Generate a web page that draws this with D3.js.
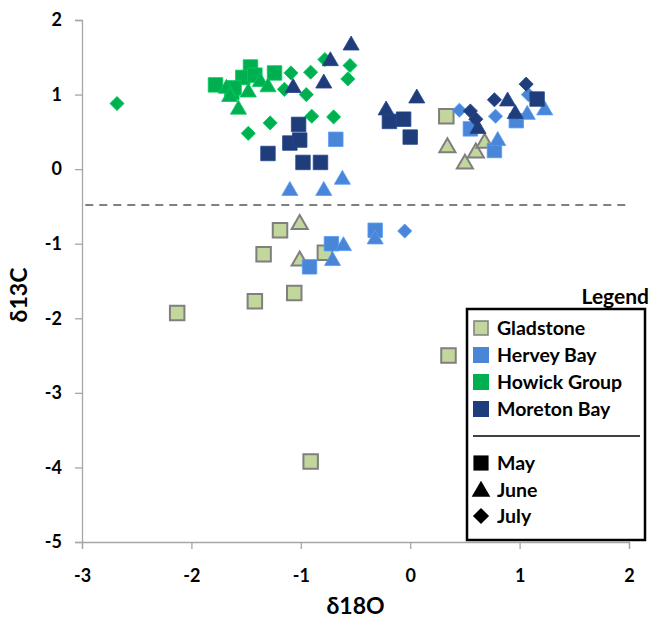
<!DOCTYPE html>
<html>
<head>
<meta charset="utf-8">
<script src="https://cdn.jsdelivr.net/npm/d3@7"></script>
<style>
  body { margin: 0; background: #fff; }
  text { font-family: Lato, "Open Sans", sans-serif; font-weight: bold; }
</style>
</head>
<body>
<div id="chart"></div>
<script>
// site / month data, [d18O, d13C]
var gladstoneMay = [[0.33,0.71],[-1.19,-0.82],[-1.34,-1.14],[-0.78,-1.12],[-1.06,-1.66],[-1.42,-1.77],[-2.13,-1.93],[0.35,-2.50],[-0.91,-3.92]];
var gladstoneJune = [[-1.01,-0.72],[-1.01,-1.21],[0.34,0.31],[0.50,0.09],[0.60,0.24],[0.68,0.37]];
var gladstoneJuly = [];

var herveyMay = [[-0.68,0.40],[-0.92,-1.31],[-0.72,-1.00],[-0.32,-0.82],[0.55,0.54],[0.97,0.65],[0.77,0.25]];
var herveyJune = [[-1.10,-0.27],[-0.79,-0.27],[-0.62,-0.12],[-0.61,-1.01],[-0.71,-1.21],[-0.32,-0.92],[1.07,0.75],[1.23,0.81],[0.80,0.40]];
var herveyJuly = [[0.45,0.79],[0.78,0.71],[1.08,1.00],[-0.05,-0.83]];

var howickMay = [[-1.78,1.13],[-1.46,1.37],[-1.53,1.23],[-1.24,1.29],[-1.63,1.03],[-1.42,1.26],[-1.61,1.09]];
var howickJune = [[-1.68,1.10],[-1.57,0.82],[-1.48,1.05],[-1.37,1.19],[-1.30,1.12],[-1.65,0.99]];
var howickJuly = [[-2.68,0.88],[-1.48,0.48],[-1.28,0.62],[-1.09,1.29],[-1.15,1.07],[-0.91,1.30],[-0.95,1.00],[-0.90,0.71],[-0.70,0.70],[-0.78,1.47],[-0.55,1.39],[-0.57,1.21]];

var moretonMay = [[-1.02,0.60],[-1.10,0.35],[-1.01,0.39],[-1.30,0.21],[-0.98,0.09],[-0.82,0.09],[-0.19,0.64],[-0.06,0.67],[0.00,0.43],[1.16,0.94]];
var moretonJune = [[-0.54,1.68],[-0.73,1.47],[-0.79,1.17],[-1.07,1.11],[-0.22,0.81],[0.06,0.97],[0.89,0.93],[0.96,0.76],[0.62,0.56]];
var moretonJuly = [[0.55,0.78],[0.60,0.67],[0.77,0.93],[1.06,1.14]];

var siteNames = ["Gladstone", "Hervey Bay", "Howick Group", "Moreton Bay"];
var siteColors = ["#c3d69b", "#4a86d8", "#00b050", "#1f3d7a"];
var monthNames = ["May", "June", "July"];
var xTicks = [-3, -2, -1, 0, 1, 2];
var yTicks = [-5, -4, -3, -2, -1, 0, 1, 2];
var thresholdY = -0.48;

var siteData = [
  [gladstoneMay, gladstoneJune, gladstoneJuly],
  [herveyMay, herveyJune, herveyJuly],
  [howickMay, howickJune, howickJuly],
  [moretonMay, moretonJune, moretonJuly]
];

var width = 651, height = 619;
var margin = {top: 20, right: 22, bottom: 77, left: 82};

var svg = d3.select("#chart").append("svg")
    .attr("width", width)
    .attr("height", height);

var x = d3.scaleLinear().domain([-3, 2]).range([margin.left, width - margin.right]);
var y = d3.scaleLinear().domain([-5, 2]).range([height - margin.bottom, margin.top]);

// plain hyphen for negatives, like the original
var fmt = function(d) { return String(d); };

// axes
var xAxis = svg.append("g")
    .attr("transform", "translate(0," + y(-5) + ")")
    .call(d3.axisBottom(x).tickValues(xTicks).tickSize(7).tickPadding(20).tickFormat(fmt));
var yAxis = svg.append("g")
    .attr("transform", "translate(" + x(-3) + ",0)")
    .call(d3.axisLeft(y).tickValues(yTicks).tickSize(7).tickPadding(13).tickFormat(fmt));

[xAxis, yAxis].forEach(function(ax) {
  ax.select(".domain").attr("stroke", "#a6a6a6").attr("stroke-width", 1.3);
  ax.selectAll(".tick line").attr("stroke", "#a6a6a6").attr("stroke-width", 1.3);
  ax.selectAll(".tick text").attr("fill", "#000").style("font-size", "18px").style("font-weight", "bold")
    .style("font-family", "Lato, 'Open Sans', sans-serif");
});

// dashed threshold line
svg.append("line")
    .attr("x1", x(-2.97)).attr("x2", x(1.97))
    .attr("y1", y(thresholdY)).attr("y2", y(thresholdY))
    .attr("stroke", "#7f7f7f")
    .attr("stroke-width", 2)
    .attr("stroke-dasharray", "8,6");

// axis titles
svg.append("text")
    .attr("x", (x(-3) + x(2)) / 2)
    .attr("y", 614)
    .attr("text-anchor", "middle")
    .style("font-size", "23px")
    .text("δ18O");
svg.append("text")
    .attr("transform", "translate(27," + ((y(-5) + y(2)) / 2 + 14) + ") rotate(-90)")
    .attr("text-anchor", "middle")
    .style("font-size", "23px")
    .text("δ13C");

// square, triangle, diamond (square turned 45 degrees)
var shapes = [d3.symbolSquare, d3.symbolTriangle, d3.symbolSquare];
var shapeSizes = [210, 112, 100];
var shapeRotate = [0, 0, 45];

function markerStroke(i) { return i === 0 ? "#7f7f7f" : d3.color(siteColors[i]).brighter(0.4); }
function markerWidth(i) { return i === 0 ? 2 : 0.8; }

// points
var points = svg.append("g");
siteData.forEach(function(months, si) {
  months.forEach(function(pts, mi) {
    var sym = d3.symbol().type(shapes[mi]).size(shapeSizes[mi]);
    points.selectAll(null)
        .data(pts)
      .enter().append("path")
        .attr("d", sym)
        .attr("transform", function(d) {
          var dy = mi === 1 ? 1.5 : 0;
          return "translate(" + x(d[0]) + "," + (y(d[1]) + dy) + ") rotate(" + shapeRotate[mi] + ")";
        })
        .attr("fill", siteColors[si])
        .attr("stroke", markerStroke(si))
        .attr("stroke-width", markerWidth(si));
  });
});

// legend
var lg = svg.append("g");
lg.append("rect")
    .attr("x", 467).attr("y", 309)
    .attr("width", 178).attr("height", 231)
    .attr("fill", "#fff")
    .attr("stroke", "#000")
    .attr("stroke-width", 2.5);
lg.append("text")
    .attr("x", 649).attr("y", 304)
    .attr("text-anchor", "end")
    .style("font-size", "21px")
    .text("Legend");

var siteRowY = [328, 355, 382, 409];
siteNames.forEach(function(name, i) {
  lg.append("rect")
      .attr("x", i === 0 ? 474 : 473).attr("y", siteRowY[i] - (i === 0 ? 7 : 8))
      .attr("width", i === 0 ? 14 : 16).attr("height", i === 0 ? 14 : 16)
      .attr("fill", siteColors[i])
      .attr("stroke", i === 0 ? "#7f7f7f" : "none")
      .attr("stroke-width", 1.5);
  lg.append("text")
      .attr("x", 497).attr("y", siteRowY[i] + 7)
      .style("font-size", "19.5px")
      .text(name);
});

lg.append("line")
    .attr("x1", 473).attr("x2", 640)
    .attr("y1", 436).attr("y2", 436)
    .attr("stroke", "#000")
    .attr("stroke-width", 1.5);

var monthRowY = [463, 490, 516];
monthNames.forEach(function(name, i) {
  lg.append("path")
      .attr("d", d3.symbol().type(shapes[i]).size([230, 150, 130][i]))
      .attr("transform", "translate(481," + (monthRowY[i] + (i === 1 ? 1.5 : 0)) + ") rotate(" + shapeRotate[i] + ")")
      .attr("fill", "#000");
  lg.append("text")
      .attr("x", 497).attr("y", monthRowY[i] + 7)
      .style("font-size", "19.5px")
      .text(name);
});
</script>
</body>
</html>
